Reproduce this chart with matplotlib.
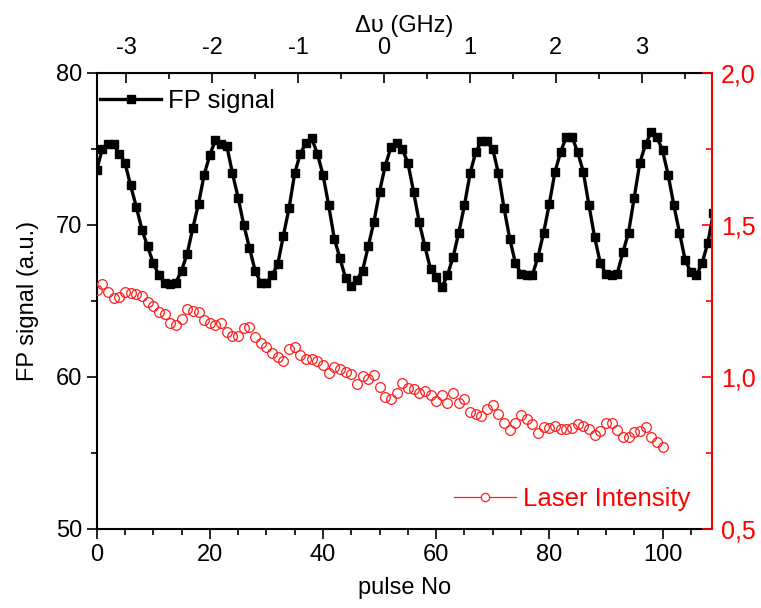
import matplotlib
matplotlib.use("Agg")
import matplotlib.pyplot as plt
from matplotlib.lines import Line2D
from matplotlib.ticker import MultipleLocator, FuncFormatter

plt.rcParams['font.family'] = ['Liberation Sans', 'DejaVu Sans']
plt.rcParams['font.size'] = 16
plt.rcParams['axes.unicode_minus'] = False

# FP transmission signal, one point per pulse
fp_pulse = list(range(110))
fp_signal = [
    73.6, 75.0, 75.3, 75.3, 74.7, 74.1, 72.6, 71.2, 69.7, 68.6,
    67.5, 66.7, 66.2, 66.1, 66.2, 67.0, 68.1, 69.8, 71.4, 73.3,
    74.6, 75.6, 75.3, 75.2, 73.4, 71.8, 70.0, 68.5, 67.0, 66.2,
    66.2, 66.7, 67.4, 69.3, 71.1, 73.4, 74.7, 75.4, 75.7, 74.7,
    73.3, 71.3, 69.1, 67.8, 66.5, 66.0, 66.4, 67.0, 68.6, 70.2,
    72.2, 73.9, 75.1, 75.4, 75.0, 74.1, 72.2, 70.2, 68.6, 67.1,
    66.6, 65.9, 66.7, 67.9, 69.5, 71.3, 73.4, 74.8, 75.5, 75.5,
    75.0, 73.4, 71.1, 69.1, 67.5, 66.8, 66.7, 66.7, 67.9, 69.5,
    71.4, 73.5, 74.8, 75.8, 75.8, 74.8, 73.5, 71.3, 69.2, 67.5,
    66.8, 66.7, 66.8, 68.2, 69.5, 71.8, 74.1, 75.3, 76.1, 75.8,
    74.9, 73.3, 71.3, 69.5, 67.7, 66.9, 66.7, 67.5, 68.8, 70.8,
]

# laser intensity (right axis)
li_pulse = list(range(101))
laser = [
    1.286, 1.306, 1.281, 1.259, 1.262, 1.281, 1.275, 1.273, 1.267, 1.248,
    1.234, 1.215, 1.206, 1.177, 1.171, 1.190, 1.223, 1.218, 1.215, 1.188,
    1.177, 1.171, 1.177, 1.149, 1.135, 1.135, 1.160, 1.165, 1.131, 1.113,
    1.100, 1.080, 1.067, 1.053, 1.091, 1.098, 1.072, 1.058, 1.058, 1.054,
    1.039, 1.012, 1.032, 1.025, 1.017, 1.010, 0.977, 1.003, 0.992, 1.007,
    0.966, 0.935, 0.926, 0.948, 0.979, 0.963, 0.960, 0.946, 0.955, 0.941,
    0.922, 0.941, 0.913, 0.946, 0.913, 0.926, 0.886, 0.878, 0.872, 0.894,
    0.908, 0.878, 0.850, 0.826, 0.850, 0.875, 0.861, 0.845, 0.815, 0.834,
    0.831, 0.839, 0.828, 0.828, 0.831, 0.845, 0.839, 0.828, 0.809, 0.823,
    0.848, 0.848, 0.826, 0.804, 0.804, 0.820, 0.823, 0.837, 0.804, 0.787,
    0.769,
]

# detuning scale: pulses per GHz and zero offset
pulses_per_ghz = 15.18
zero_pulse = 50.8
ghz_ticks = [-3, -2, -1, 0, 1, 2, 3]

fig = plt.figure(figsize=(7.61, 6.08), dpi=100)
ax = fig.add_axes([0.127, 0.130, 0.809, 0.750])
ax2 = ax.twinx()

ax.plot(fp_pulse, fp_signal, '-s', color='black', lw=2.4, ms=6, zorder=3)
ax2.plot(li_pulse, laser, 'o', ls='none', mfc='none', mec='#ff2020',
         ms=7, mew=0.9)

ax.set_xlim(0, 108.8)
ax.set_ylim(50, 80)
ax2.set_ylim(0.5, 2.0)

ax.xaxis.set_major_locator(MultipleLocator(20))
ax.xaxis.set_minor_locator(MultipleLocator(5))
ax.yaxis.set_major_locator(MultipleLocator(10))
ax.yaxis.set_minor_locator(MultipleLocator(5))
ax.tick_params(axis='both', which='major', direction='out', length=7, width=1.2)
ax.tick_params(axis='both', which='minor', direction='out', length=4, width=1.2)
ax.tick_params(axis='both', labelsize=17)

ax2.yaxis.set_major_locator(MultipleLocator(0.5))
ax2.yaxis.set_minor_locator(MultipleLocator(0.25))
ax2.yaxis.set_major_formatter(FuncFormatter(lambda v, _: f"{v:.1f}".replace('.', ',')))
ax2.tick_params(axis='y', which='major', direction='in', length=7, width=1.2,
                colors='red', labelsize=18, pad=6)
ax2.tick_params(axis='y', which='minor', direction='in', length=4, width=1.2,
                colors='red')
ax2.spines['right'].set_color('red')
ax2.spines['right'].set_linewidth(1.5)
for s in ['left', 'top', 'bottom']:
    ax2.spines[s].set_visible(False)
for s in ['left', 'top', 'bottom']:
    ax.spines[s].set_linewidth(1.5)
ax.spines['right'].set_visible(False)

top = ax.secondary_xaxis(
    'top',
    functions=(lambda p: (p - zero_pulse) / pulses_per_ghz,
               lambda g: g * pulses_per_ghz + zero_pulse))
top.set_xticks(ghz_ticks)
top.xaxis.set_minor_locator(MultipleLocator(0.5))
top.tick_params(which='major', direction='in', length=7, width=1.2,
                labelsize=17, pad=10)
top.tick_params(which='minor', direction='in', length=4, width=1.2)
top.set_xlabel('Δυ (GHz)', fontsize=17, labelpad=4)

ax.set_xlabel('pulse No', fontsize=17, labelpad=8)
ax.set_ylabel('FP signal (a.u.)', fontsize=17, labelpad=12)

fp_handle = Line2D([], [], color='black', lw=2.4, marker='s', ms=6)
ax.legend([fp_handle], ['FP signal'], loc='upper left', frameon=False,
          handlelength=2.4, handletextpad=0.25, fontsize=18.5,
          borderpad=0, borderaxespad=0, bbox_to_anchor=(0.005, 0.965))

li_handle = Line2D([], [], color='#ff2020', lw=0.9, marker='o', ms=6,
                   mfc='white', mec='#ff2020', mew=0.9)
leg2 = ax2.legend([li_handle], ['Laser Intensity'], loc='lower right',
                  frameon=False, handlelength=2.4, handletextpad=0.3,
                  fontsize=18.5, borderpad=0, borderaxespad=0,
                  bbox_to_anchor=(0.965, 0.04))
for t in leg2.get_texts():
    t.set_color('red')

fig.savefig('out.png', dpi=100)
